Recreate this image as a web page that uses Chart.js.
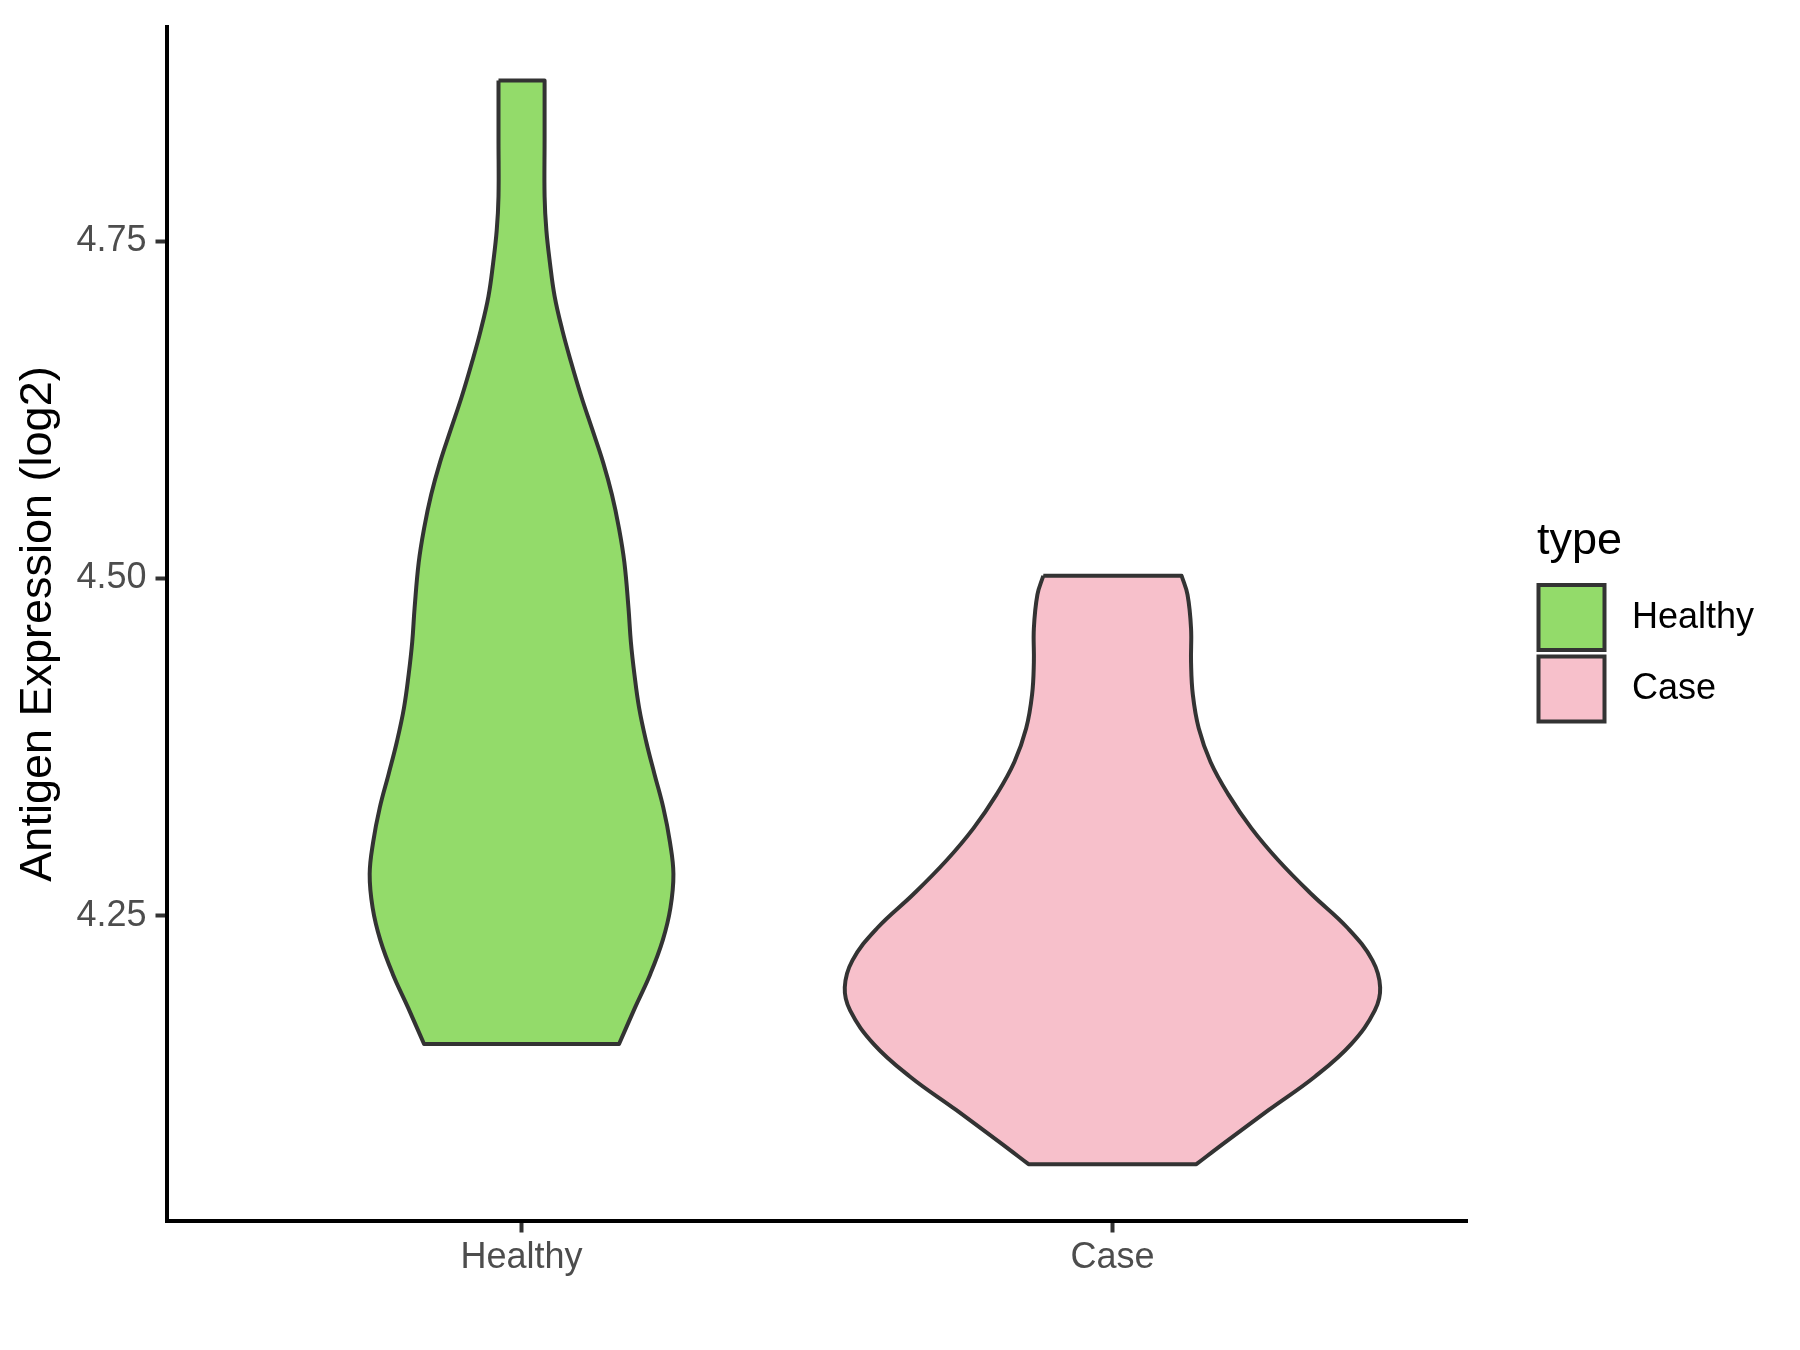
<!DOCTYPE html>
<html lang="en">
<head>
<meta charset="UTF-8">
<title>Antigen Expression Violin</title>
<script src="https://cdn.jsdelivr.net/npm/chart.js"></script>
<style>
  html, body { margin: 0; padding: 0; background: #fff; }
  canvas { display: block; }
</style>
</head>
<body>
<canvas id="violin" width="1800" height="1350"></canvas>
<script>
// categories and tick labels
const groups = ['Healthy', 'Case'];
const groupPos = [1, 2];
const yTicks = [4.25, 4.5, 4.75];

// violin outlines: level (log2) and half-width (x units)
const healthyLevels = [4.869, 4.826, 4.783, 4.758, 4.734, 4.709, 4.684, 4.660, 4.635, 4.610, 4.586, 4.562,
                       4.537, 4.512, 4.478, 4.453, 4.429, 4.404, 4.379, 4.355, 4.330, 4.305, 4.281, 4.256,
                       4.232, 4.207, 4.182, 4.155];
const healthyHalf = [0.039, 0.039, 0.039, 0.042, 0.048, 0.056, 0.069, 0.084, 0.101, 0.120, 0.138, 0.153,
                     0.165, 0.174, 0.181, 0.185, 0.191, 0.199, 0.211, 0.225, 0.240, 0.251, 0.257, 0.252,
                     0.239, 0.218, 0.192, 0.165];

const caseLevels = [4.502, 4.488, 4.463, 4.438, 4.414, 4.389, 4.364, 4.340, 4.315, 4.291, 4.266, 4.241,
                    4.217, 4.197, 4.180, 4.155, 4.131, 4.106, 4.082, 4.066];
const caseHalf = [0.117, 0.127, 0.133, 0.133, 0.136, 0.146, 0.166, 0.196, 0.235, 0.281, 0.337, 0.398,
                  0.440, 0.453, 0.444, 0.404, 0.343, 0.264, 0.190, 0.142];

const colors = ['#93DB6A', '#F7C0CB'];
const FONT = '"Liberation Sans", Arial, sans-serif';

// closed outline: left side down, right side up; corners doubled so flat ends stay straight
function outline(center, levels, half) {
    const left = levels.map((y, i) => ({ x: center - half[i], y: y }));
    const right = levels.map((y, i) => ({ x: center + half[i], y: y })).reverse();
    const n = left.length;
    return [...left, left[n - 1], right[0], ...right, right[n - 1], left[0], left[0]];
}

const legendPlugin = {
    id: 'sideLegend',
    afterDraw(chart) {
        const ctx = chart.ctx;
        ctx.save();
        ctx.fillStyle = '#000';
        ctx.font = '45px ' + FONT;
        ctx.textBaseline = 'alphabetic';
        ctx.textAlign = 'left';
        ctx.fillText('type', 1537, 554);
        groups.forEach((g, i) => {
            const top = 585 + i * 71.5;
            ctx.fillStyle = colors[i];
            ctx.fillRect(1538.5, top, 66, 65);
            ctx.strokeStyle = '#333333';
            ctx.lineWidth = 4;
            ctx.strokeRect(1538.5, top, 66, 65);
            ctx.fillStyle = '#000';
            ctx.font = '36px ' + FONT;
            ctx.textBaseline = 'middle';
            ctx.fillText(g, 1632, top + 33);
        });
        ctx.restore();
    }
};

Chart.defaults.font.family = FONT;

new Chart(document.getElementById('violin'), {
    type: 'line',
    data: {
        datasets: [
            {
                label: groups[0],
                data: outline(groupPos[0], healthyLevels, healthyHalf),
                backgroundColor: colors[0],
                borderColor: '#333333',
                borderWidth: 4,
                borderJoinStyle: 'round',
                fill: 'shape',
                tension: 0.4,
                pointRadius: 0
            },
            {
                label: groups[1],
                data: outline(groupPos[1], caseLevels, caseHalf),
                backgroundColor: colors[1],
                borderColor: '#333333',
                borderWidth: 4,
                borderJoinStyle: 'round',
                fill: 'shape',
                tension: 0.4,
                pointRadius: 0
            }
        ]
    },
    options: {
        responsive: false,
        animation: false,
        devicePixelRatio: 1,
        layout: { padding: { left: 0, top: 23, right: 333, bottom: 0 } },
        plugins: {
            legend: { display: false },
            tooltip: { enabled: false }
        },
        scales: {
            x: {
                type: 'linear',
                bounds: 'data',
                min: 0.4,
                max: 2.6,
                afterBuildTicks: s => { s.ticks = groupPos.map(v => ({ value: v })); },
                afterFit: s => { s.height = 129; },
                ticks: {
                    callback: (v, i) => groups[i],
                    font: { size: 36, lineHeight: 1 },
                    color: '#4D4D4D',
                    padding: 8,
                    maxRotation: 0
                },
                grid: { drawOnChartArea: false, drawTicks: true, tickLength: 11.5, tickWidth: 4, tickColor: '#333333' },
                border: { display: true, color: '#000', width: 4 }
            },
            y: {
                type: 'linear',
                bounds: 'data',
                min: 4.0239,
                max: 4.9086,
                afterBuildTicks: s => { s.ticks = yTicks.map(v => ({ value: v })); },
                afterFit: s => { s.width = 167; },
                ticks: {
                    callback: v => v.toFixed(2),
                    font: { size: 36, lineHeight: 1 },
                    color: '#4D4D4D',
                    padding: 9
                },
                grid: { drawOnChartArea: false, drawTicks: true, tickLength: 11.5, tickWidth: 4, tickColor: '#333333' },
                border: { display: true, color: '#000', width: 4 },
                title: {
                    display: true,
                    text: 'Antigen Expression (log2)',
                    color: '#000',
                    font: { size: 45, lineHeight: 1.2 },
                    padding: { top: 12, bottom: 0 }
                }
            }
        }
    },
    plugins: [legendPlugin]
});
</script>
</body>
</html>
